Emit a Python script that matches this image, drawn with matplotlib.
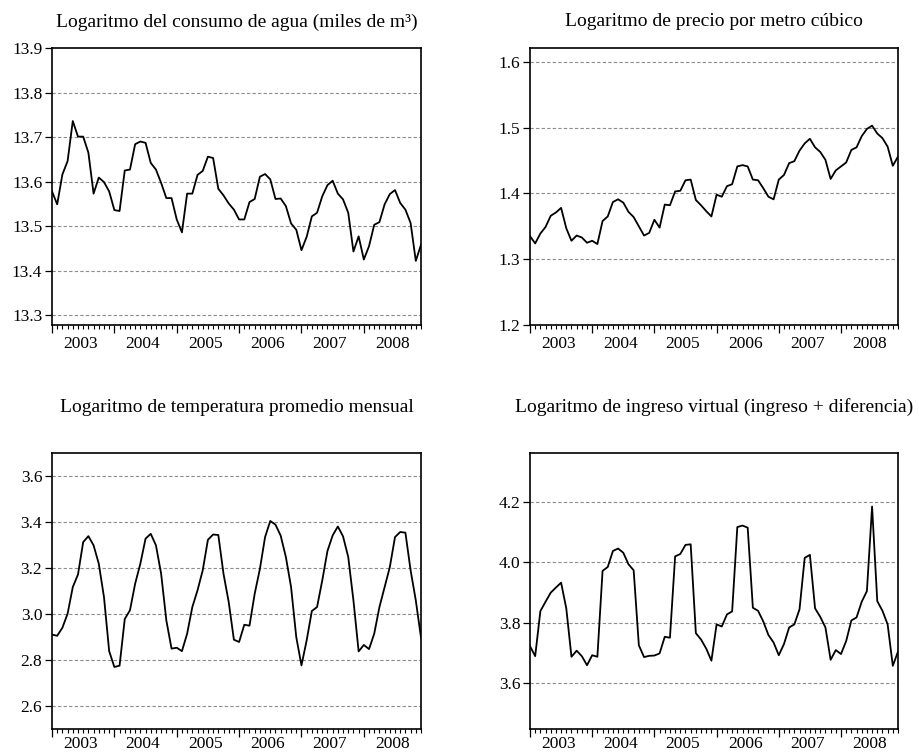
import numpy as np
import matplotlib
matplotlib.use('Agg')
import matplotlib.pyplot as plt

plt.rcParams['font.family'] = ['Liberation Serif', 'DejaVu Serif']

# monthly series, Jan 2003 - Dec 2008
years = ['2003', '2004', '2005', '2006', '2007', '2008']

consumo = [13.578, 13.549, 13.616, 13.646, 13.736, 13.701, 13.701, 13.665, 13.573, 13.609, 13.599, 13.578,
           13.536, 13.534, 13.625, 13.627, 13.684, 13.690, 13.687, 13.642, 13.627, 13.597, 13.563, 13.563,
           13.515, 13.486, 13.573, 13.573, 13.615, 13.624, 13.656, 13.653, 13.584, 13.569, 13.551, 13.537,
           13.515, 13.515, 13.554, 13.561, 13.611, 13.617, 13.605, 13.561, 13.562, 13.545, 13.506, 13.492,
           13.446, 13.476, 13.522, 13.530, 13.567, 13.592, 13.602, 13.573, 13.560, 13.530, 13.443, 13.477,
           13.425, 13.455, 13.503, 13.509, 13.549, 13.572, 13.581, 13.552, 13.537, 13.507, 13.422, 13.458]

precio = [1.335, 1.324, 1.339, 1.349, 1.366, 1.371, 1.378, 1.347, 1.328, 1.336, 1.333, 1.325,
          1.328, 1.323, 1.358, 1.365, 1.387, 1.391, 1.386, 1.372, 1.364, 1.350, 1.336, 1.340,
          1.360, 1.348, 1.383, 1.382, 1.403, 1.404, 1.420, 1.421, 1.390, 1.382, 1.373, 1.365,
          1.398, 1.395, 1.411, 1.414, 1.441, 1.443, 1.441, 1.421, 1.420, 1.408, 1.395, 1.391,
          1.421, 1.428, 1.446, 1.449, 1.465, 1.476, 1.483, 1.470, 1.463, 1.451, 1.422, 1.435,
          1.441, 1.447, 1.466, 1.470, 1.487, 1.498, 1.503, 1.491, 1.484, 1.471, 1.442, 1.456]

temperatura = [2.911, 2.906, 2.941, 3.002, 3.118, 3.173, 3.314, 3.340, 3.300, 3.220, 3.075, 2.839,
               2.770, 2.776, 2.979, 3.017, 3.133, 3.220, 3.329, 3.350, 3.300, 3.176, 2.973, 2.850,
               2.854, 2.839, 2.915, 3.031, 3.104, 3.191, 3.324, 3.347, 3.345, 3.176, 3.053, 2.889,
               2.879, 2.954, 2.950, 3.089, 3.197, 3.336, 3.406, 3.390, 3.342, 3.249, 3.118, 2.900,
               2.777, 2.886, 3.014, 3.031, 3.147, 3.275, 3.343, 3.382, 3.339, 3.249, 3.060, 2.838,
               2.866, 2.848, 2.915, 3.031, 3.118, 3.205, 3.336, 3.358, 3.355, 3.191, 3.060, 2.898]

ingreso = [3.723, 3.690, 3.839, 3.870, 3.900, 3.917, 3.933, 3.848, 3.688, 3.708, 3.690, 3.660,
           3.693, 3.688, 3.972, 3.985, 4.038, 4.046, 4.032, 3.994, 3.974, 3.726, 3.687, 3.691,
           3.692, 3.699, 3.754, 3.751, 4.020, 4.028, 4.058, 4.060, 3.766, 3.745, 3.715, 3.675,
           3.795, 3.788, 3.828, 3.838, 4.117, 4.122, 4.115, 3.850, 3.840, 3.805, 3.760, 3.735,
           3.693, 3.730, 3.785, 3.795, 3.845, 4.015, 4.025, 3.848, 3.820, 3.785, 3.678, 3.710,
           3.697, 3.740, 3.808, 3.818, 3.870, 3.905, 4.185, 3.872, 3.840, 3.795, 3.658, 3.705]

titles = ['Logaritmo del consumo de agua (miles de m³)',
          'Logaritmo de precio por metro cúbico',
          'Logaritmo de temperatura promedio mensual',
          'Logaritmo de ingreso virtual (ingreso + diferencia)']
series = [consumo, precio, temperatura, ingreso]
ylims = [(13.278, 13.9), (1.2, 1.621), (2.5, 3.702), (3.449, 4.362)]
yticks = [[13.3, 13.4, 13.5, 13.6, 13.7, 13.8, 13.9],
          [1.2, 1.3, 1.4, 1.5, 1.6],
          [2.6, 2.8, 3.0, 3.2, 3.4, 3.6],
          [3.6, 3.8, 4.0, 4.2]]
gridticks = [[13.3, 13.4, 13.5, 13.6, 13.7, 13.8],
             [1.3, 1.4, 1.5, 1.6],
             [2.6, 2.8, 3.0, 3.2, 3.4, 3.6],
             [3.6, 3.8, 4.0, 4.2]]

W, H = 920, 754
fig = plt.figure(figsize=(W / 100, H / 100), dpi=100)

# axes boxes in pixels: left, top, right, bottom
boxes = [(52, 48, 421, 325), (530, 48, 898, 325),
         (52, 453, 421, 729), (530, 453, 898, 729)]
title_y = [22, 22, 407, 407]
year_pad = [8, 8, 5, 5]

x = np.arange(72)
for k in range(4):
    l, t, r, b = boxes[k]
    ax = fig.add_axes([l / W, 1 - b / H, (r - l) / W, (b - t) / H])
    for g in gridticks[k]:
        ax.axhline(g, color='#8c8c8c', lw=0.8, ls=(0, (3, 2)), zorder=1)
    ax.plot(x, series[k], color='black', lw=1.3, zorder=3)
    ax.set_xlim(0, 71)
    ax.set_ylim(*ylims[k])
    ax.set_yticks(yticks[k])
    ax.set_yticklabels(['%.1f' % v for v in yticks[k]])
    ax.set_xticks(np.arange(0, 72, 12))
    ax.set_xticks(np.arange(0, 72), minor=True)
    ax.set_xticklabels([])
    ax.tick_params(axis='x', which='major', direction='out', length=6, width=0.9)
    ax.tick_params(axis='x', which='minor', direction='out', length=3, width=0.8)
    ax.tick_params(axis='y', direction='out', length=5, width=0.9, pad=2, labelsize=12.5)
    for sp in ax.spines.values():
        sp.set_linewidth(1.2)

    sec = ax.secondary_xaxis('bottom')
    sec.set_xticks(np.arange(6) * 12 + 5.5)
    sec.set_xticklabels(years)
    sec.tick_params(length=0, pad=year_pad[k], labelsize=12.5)
    sec.spines['bottom'].set_visible(False)

    fig.text((l + r) / 2 / W, 1 - title_y[k] / H, titles[k], ha='center', va='center', fontsize=14)

fig.savefig('out.png', dpi=100)
